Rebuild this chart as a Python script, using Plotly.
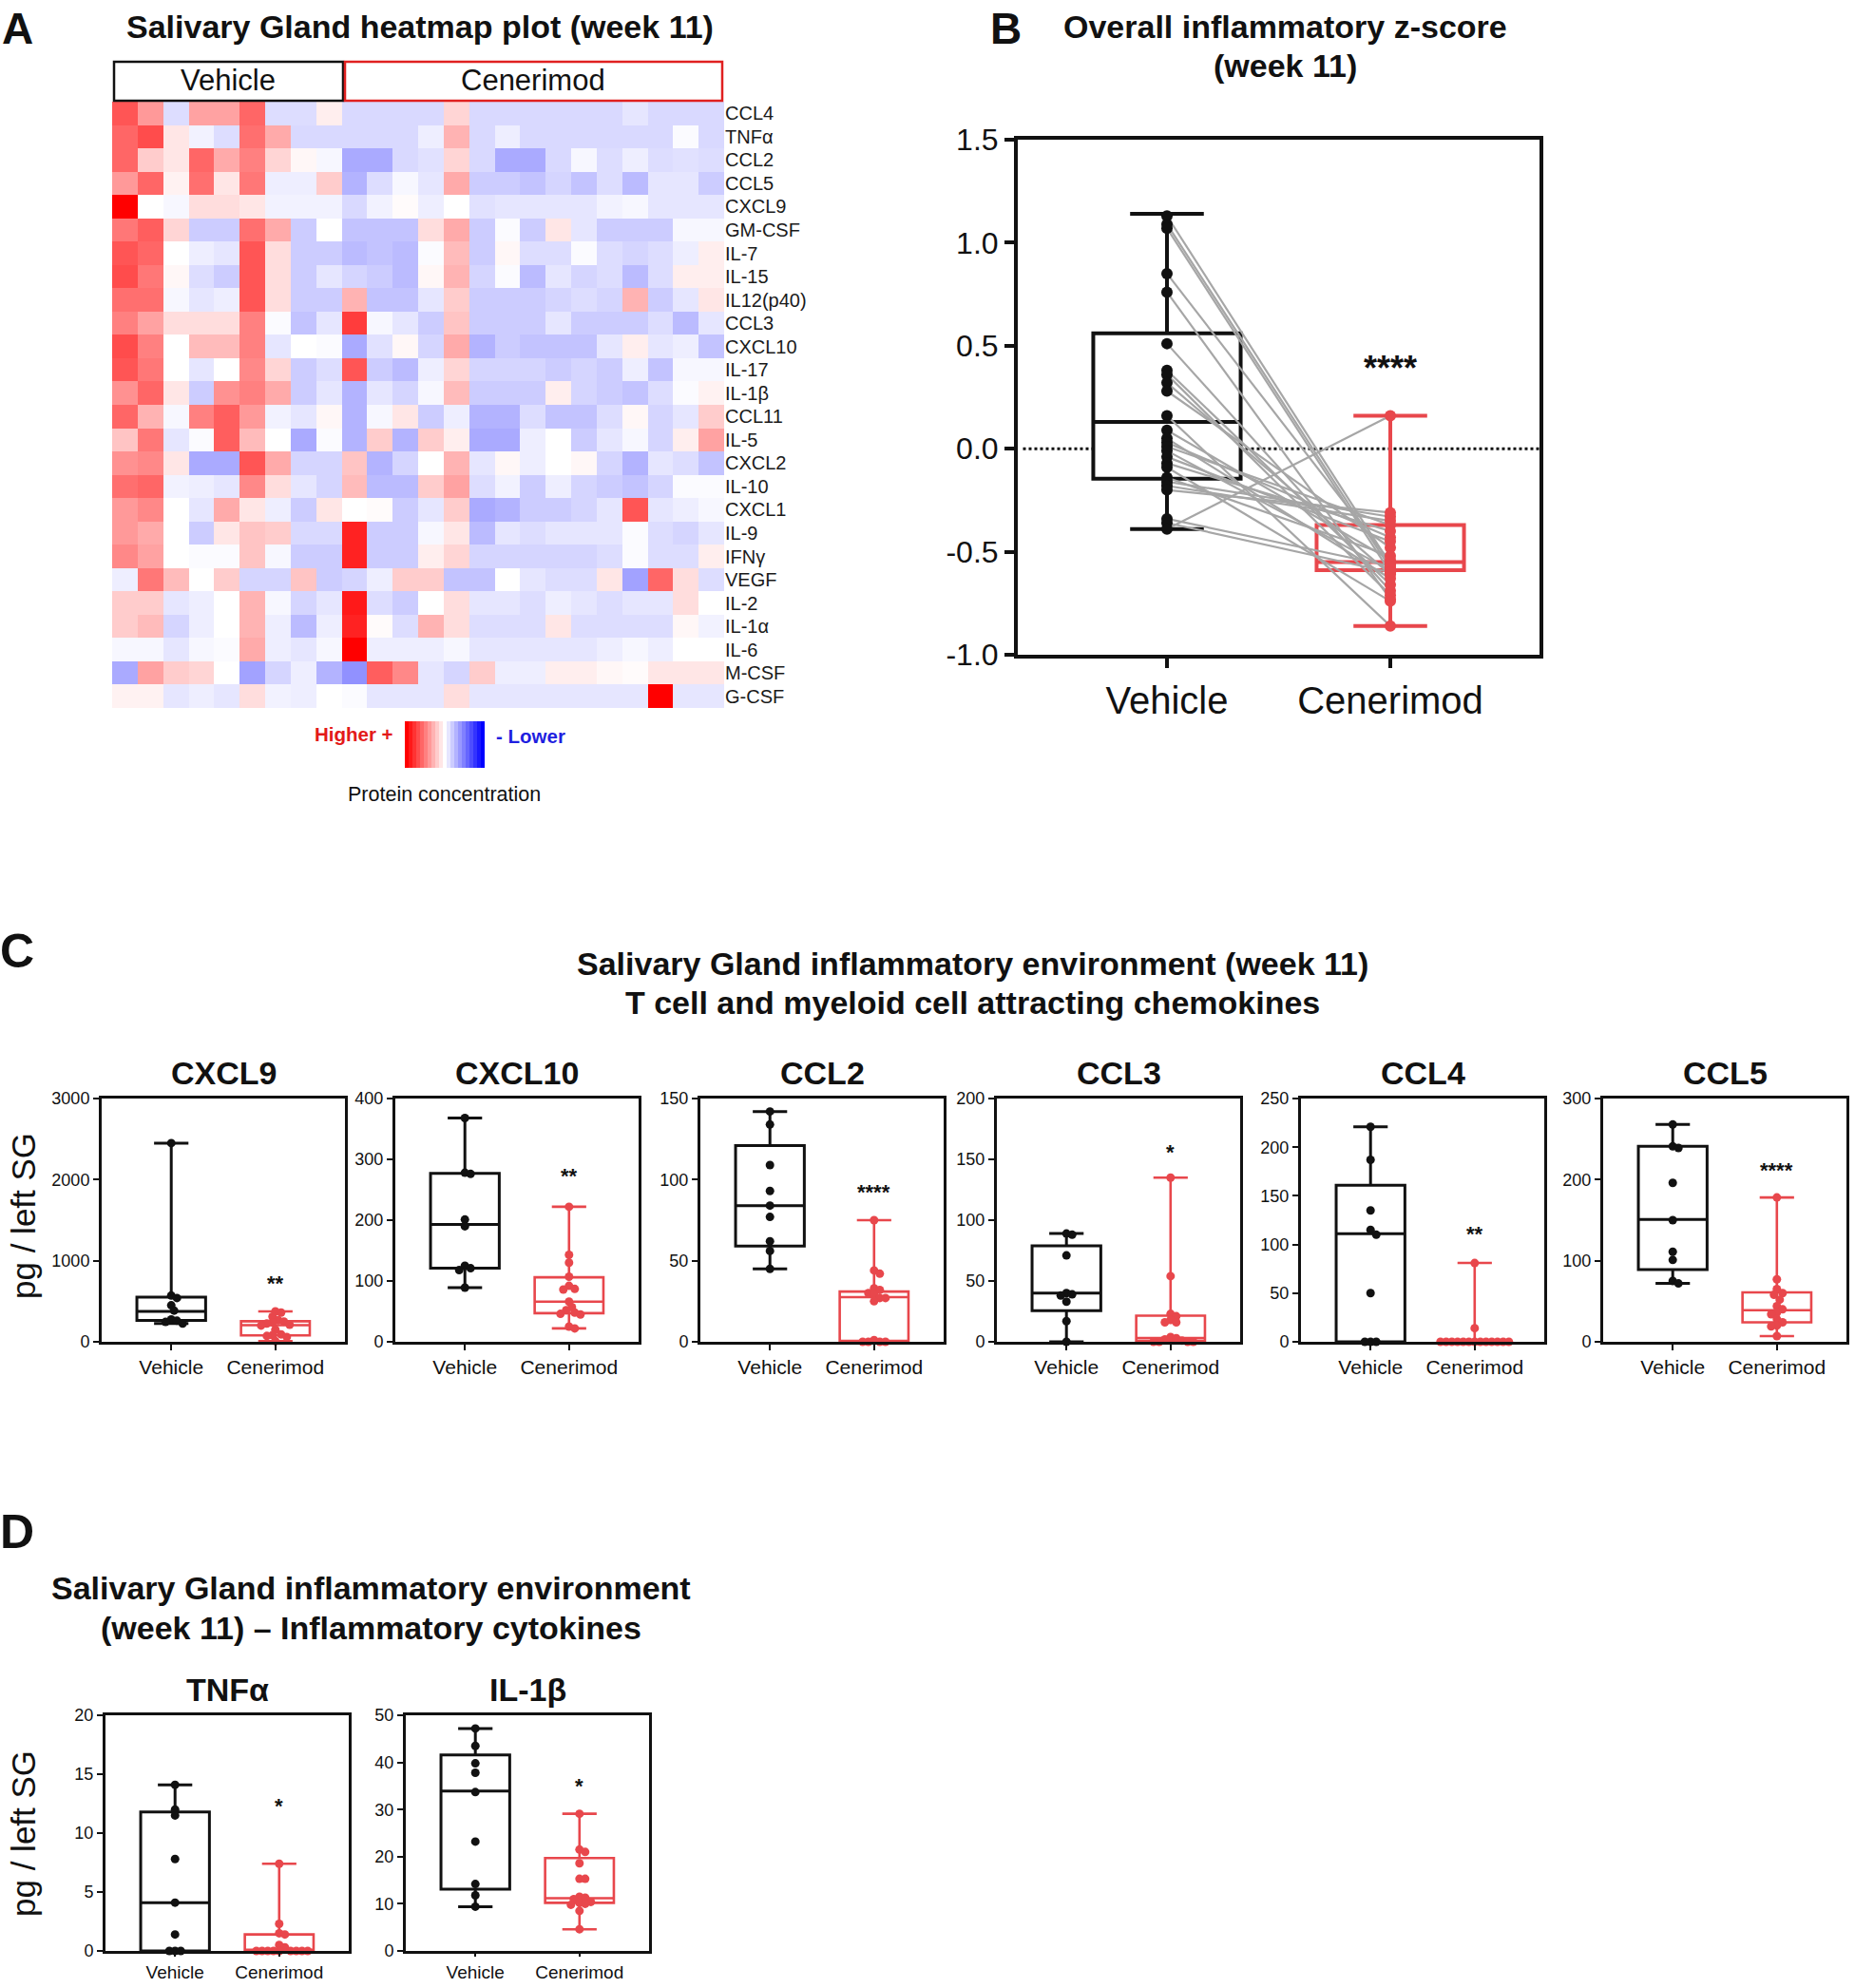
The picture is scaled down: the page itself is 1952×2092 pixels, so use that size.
import plotly.graph_objects as go

W, H = 1952, 2092
FONT = "Liberation Sans, Arial, Helvetica, sans-serif"
NARROW = "Liberation Sans Narrow, Arial Narrow, Liberation Sans, Arial, sans-serif"
RED = "#e8474c"
BLACK = "#111111"
GREY = "#a6a6a6"

# ---------------- Panel A: heatmap data ----------------
heat_rows = ["CCL4", "TNFα", "CCL2", "CCL5", "CXCL9", "GM-CSF", "IL-7", "IL-15", "IL12(p40)",
             "CCL3", "CXCL10", "IL-17", "IL-1β", "CCL11", "IL-5", "CXCL2", "IL-10", "CXCL1",
             "IL-9", "IFNγ", "VEGF", "IL-2", "IL-1α", "IL-6", "M-CSF", "G-CSF"]
heat_cols = ["V1", "V2", "V3", "V4", "V5", "V6", "V7", "V8", "V9",
             "C1", "C2", "C3", "C4", "C5", "C6", "C7", "C8", "C9", "C10", "C11", "C12", "C13", "C14", "C15"]
heat_values = [
    [2.0, 1.2, -0.4, 1.1, 1.1, 1.8, -0.4, -0.4, 0.2, -0.45, -0.45, -0.45, -0.45, 0.5, -0.45, -0.45, -0.45, -0.45, -0.45, -0.45, -0.3, -0.45, -0.45, -0.45],
    [1.8, 2.1, 0.3, -0.15, -0.4, 1.7, 1.0, -0.45, -0.45, -0.45, -0.45, -0.45, -0.2, 0.9, -0.45, -0.2, -0.45, -0.45, -0.45, -0.45, -0.45, -0.45, -0.05, -0.45],
    [1.8, 0.6, 0.3, 1.8, 1.0, 1.5, 0.5, 0.1, -0.1, -1.0, -1.0, -0.45, -0.35, 0.5, -0.45, -1.0, -1.0, -0.45, -0.1, -0.4, -0.2, -0.4, -0.35, -0.4],
    [1.2, 1.8, 0.15, 1.7, 0.3, 1.6, -0.2, -0.2, 0.6, -0.9, -0.4, -0.1, -0.3, 1.0, -0.6, -0.6, -0.7, -0.5, -0.7, -0.4, -0.8, -0.3, -0.3, -0.6],
    [3.0, 0.0, -0.1, 0.4, 0.4, 0.3, -0.15, -0.15, -0.15, -0.45, -0.15, 0.05, -0.2, 0.0, -0.35, -0.3, -0.3, -0.3, -0.3, -0.15, -0.1, -0.3, -0.3, -0.3],
    [1.6, 1.9, 0.5, -0.6, -0.6, 1.7, 1.0, -0.6, 0.0, -0.7, -0.7, -0.7, 0.4, 1.0, -0.6, -0.05, -0.6, 0.3, -0.3, -0.6, -0.6, -0.6, -0.1, -0.1],
    [2.0, 1.8, 0.0, -0.2, -0.3, 2.0, 0.4, -0.6, -0.6, -0.8, -0.7, -0.8, -0.05, 0.8, -0.6, 0.1, -0.4, -0.4, -0.05, -0.4, -0.5, -0.4, -0.2, 0.2],
    [2.1, 1.6, 0.1, -0.4, -0.6, 2.0, 0.4, -0.6, -0.3, -0.5, -0.6, -0.8, 0.1, 0.9, -0.5, -0.05, -0.8, -0.3, -0.5, -0.4, -0.8, -0.4, 0.2, 0.2],
    [1.7, 1.7, -0.1, -0.3, -0.2, 2.0, 0.4, -0.6, -0.6, 0.9, -0.7, -0.7, -0.3, 0.6, -0.6, -0.6, -0.6, -0.5, -0.4, -0.5, 0.9, -0.6, -0.3, 0.3],
    [1.5, 1.1, 0.4, 0.4, 0.4, 1.5, -0.05, -0.7, -0.3, 2.3, -0.1, -0.3, -0.6, 0.7, -0.6, -0.6, -0.6, -0.3, -0.6, -0.6, -0.6, -0.4, -0.8, -0.3],
    [2.1, 1.5, 0.0, 0.8, 0.8, 1.5, -0.3, 0.0, -0.05, -1.0, -0.35, 0.1, -0.5, 1.0, -0.9, -0.6, -0.7, -0.7, -0.7, -0.3, 0.2, -0.3, -0.2, -0.7],
    [2.0, 1.6, 0.0, -0.3, 0.0, 1.4, 0.5, -0.6, -0.4, 2.0, -0.6, -0.8, -0.2, 0.5, -0.5, -0.5, -0.5, -0.6, -0.5, -0.6, -0.2, -0.7, -0.1, -0.1],
    [1.3, 1.8, 0.3, -0.6, 1.3, 1.5, 1.0, -0.6, -0.3, -0.9, -0.3, -0.5, -0.1, 0.8, -0.6, -0.6, -0.6, 0.2, -0.5, -0.6, -0.7, -0.4, -0.05, 0.15],
    [1.8, 0.9, -0.1, 1.5, 1.9, 1.2, -0.15, -0.3, 0.1, -0.9, -0.1, 0.3, -0.6, -0.2, -0.9, -0.9, -0.4, -0.7, -0.7, -0.4, 0.1, -0.5, -0.3, 0.6],
    [0.7, 1.6, -0.3, -0.05, 1.9, 0.8, 0.0, -1.0, -0.05, -0.9, 0.6, -0.9, 0.6, 0.2, -1.0, -1.0, -0.2, 0.0, -0.6, -0.3, -0.1, -0.5, 0.2, 1.1],
    [1.3, 1.4, 0.3, -1.0, -1.0, 2.0, 1.0, -0.5, -0.5, 0.7, -0.9, -0.5, 0.0, 0.9, -0.3, 0.1, -0.2, 0.0, 0.1, -0.5, -0.9, -0.3, -0.4, -0.7],
    [1.7, 1.8, -0.15, -0.2, -0.3, 1.4, 0.4, -0.3, -0.5, 0.8, -0.8, -0.8, 0.6, 1.1, -0.4, -0.15, -0.6, -0.2, -0.5, -0.6, -0.7, -0.5, -0.05, -0.05],
    [1.2, 1.4, 0.0, -0.3, 1.0, 0.3, -0.2, -0.6, 0.3, 0.0, 0.05, -0.6, -0.3, 0.6, -1.0, -0.9, -0.6, -0.6, -0.5, -0.3, 2.0, -0.3, -0.2, -0.1],
    [1.2, 1.0, 0.0, -0.6, 0.3, 0.7, 0.6, -0.45, -0.45, 2.6, -0.6, -0.6, -0.1, 0.3, -0.8, -0.3, -0.4, -0.3, -0.3, -0.3, -0.05, -0.4, -0.5, -0.3],
    [1.4, 1.1, 0.0, -0.05, -0.05, 0.7, -0.1, -0.6, -0.6, 2.6, -0.6, -0.6, 0.2, 0.5, -0.5, -0.5, -0.5, -0.5, -0.5, -0.4, -0.05, -0.4, -0.4, 0.2],
    [-0.2, 1.6, 0.8, 0.0, 0.6, -0.5, -0.5, 0.7, -0.6, -0.5, -0.2, 0.6, 0.6, -0.7, -0.7, 0.0, -0.3, -0.4, -0.4, 0.3, -1.1, 1.8, 0.4, -0.4],
    [0.6, 0.6, -0.3, -0.2, 0.0, 0.9, -0.1, -0.5, -0.3, 2.7, -0.4, -0.6, 0.0, 0.4, -0.3, -0.3, -0.4, -0.2, -0.3, -0.4, -0.3, -0.3, 0.4, 0.0],
    [0.6, 0.8, -0.5, -0.2, 0.0, 0.9, -0.2, -0.8, -0.2, 2.6, 0.05, -0.4, 0.9, 0.4, -0.4, -0.4, -0.4, 0.3, -0.4, -0.4, -0.4, -0.4, 0.1, -0.15],
    [-0.1, -0.1, -0.3, -0.1, -0.05, 1.0, -0.2, -0.3, -0.1, 3.0, -0.2, -0.2, -0.2, -0.1, -0.3, -0.3, -0.3, -0.3, -0.3, -0.2, -0.1, -0.2, 0.0, 0.0],
    [-1.0, 1.1, 0.6, 0.5, 0.0, -1.1, -0.5, -0.2, -0.9, -1.3, 1.9, 1.4, -0.3, -0.5, 0.6, -0.2, -0.2, 0.2, 0.2, 0.1, 0.05, 0.3, 0.3, 0.3],
    [0.15, 0.15, -0.3, -0.2, -0.3, 0.4, -0.15, -0.2, 0.0, -0.05, -0.3, -0.3, -0.3, 0.4, -0.3, -0.3, -0.3, -0.3, -0.3, -0.3, -0.3, 3.0, -0.3, -0.3],
]
legend_gradient = [3.0, 2.7, 2.4, 2.1, 1.8, 1.5, 1.2, 0.9, 0.6, 0.3, 0.0, -0.3, -0.6, -0.9, -1.2,
                   -1.5, -1.8, -2.1, -2.4, -2.7, -3.0]

# ---------------- Panel B: overall z-score ----------------
b_categories = ["Vehicle", "Cenerimod"]
b_vehicle = [1.13, 1.09, 1.07, 0.85, 0.76, 0.51, 0.38, 0.36, 0.32, 0.28, 0.16, 0.09, 0.05,
             0.03, 0.01, -0.01, -0.04, -0.07, -0.09, -0.14, -0.16, -0.18, -0.20, -0.34, -0.36, -0.39]
b_cenerimod = [-0.56, -0.58, -0.60, -0.55, -0.73, -0.69, -0.66, -0.71, -0.61, -0.48, -0.86, -0.54, -0.63,
               -0.43, -0.37, -0.59, -0.45, -0.40, -0.74, -0.52, -0.33, -0.35, -0.31, -0.57, -0.60, 0.16]
b_vehicle_box = [-0.39, -0.145, 0.13, 0.56, 1.14]      # min, Q1, median, Q3, max
b_cenerimod_box = [-0.86, -0.59, -0.55, -0.37, 0.16]
b_yticks = [-1.0, -0.5, 0.0, 0.5, 1.0, 1.5]
b_star_y = 0.39

# ---------------- Panel C: chemokines ----------------
c_names = ["CXCL9", "CXCL10", "CCL2", "CCL3", "CCL4", "CCL5"]
c_ymax = [3000, 400, 150, 200, 250, 300]
c_dtick = [1000, 100, 50, 50, 50, 100]
c_stars = ["**", "**", "****", "*", "**", "****"]
c_star_y = [720, 272, 92, 156, 111, 211]

cxcl9_vehicle = [2450, 570, 540, 450, 385, 275, 260, 245, 225]
cxcl9_cenerimod = [375, 360, 310, 268, 250, 238, 225, 210, 200, 150, 92, 82, 72, 60, 8]
cxcl9_vehicle_box = [225, 265, 375, 550, 2450]
cxcl9_cenerimod_box = [8, 79, 205, 253, 375]

cxcl10_vehicle = [368, 278, 276, 201, 190, 125, 121, 118, 89]
cxcl10_cenerimod = [222, 143, 130, 107, 92, 87, 86, 66, 57, 52, 48, 46, 45, 25, 22]
cxcl10_vehicle_box = [89, 121, 193, 277, 368]
cxcl10_cenerimod_box = [22, 47, 66, 106, 222]

ccl2_vehicle = [142, 134, 109, 93, 84, 77, 62, 56, 45]
ccl2_cenerimod = [75, 44, 42, 33, 32, 30, 29, 27, 27, 25, 1, 0, 0, 0, 0]
ccl2_vehicle_box = [45, 59, 84, 121, 142]
ccl2_cenerimod_box = [0, 0.6, 27.5, 31, 75]

ccl3_vehicle = [89, 88, 71, 40, 39, 38, 33, 17, 0]
ccl3_cenerimod = [135, 54, 23, 21, 18, 16, 16, 4, 3, 2, 1, 0, 0, 0, 0]
ccl3_vehicle_box = [0, 25.5, 40, 79, 89]
ccl3_cenerimod_box = [0, 0.5, 3, 21.5, 135]

ccl4_vehicle = [221, 187, 135, 115, 110, 50, 0, 0, 0]
ccl4_cenerimod = [81, 14, 0, 0, 0, 0, 0, 0, 0, 0, 0, 0, 0, 0, 0]
ccl4_vehicle_box = [0, 0, 111, 161, 221]
ccl4_cenerimod_box = [0, 0, 0, 0, 81]

ccl5_vehicle = [268, 241, 239, 196, 150, 111, 101, 75, 72]
ccl5_cenerimod = [178, 77, 65, 60, 58, 52, 44, 40, 36, 34, 28, 24, 20, 19, 7]
ccl5_vehicle_box = [72, 89, 151, 241, 268]
ccl5_cenerimod_box = [7, 24, 39, 61, 178]

# ---------------- Panel D: cytokines ----------------
d_names = ["TNFα", "IL-1β"]
d_ymax = [20, 50]
d_dtick = [5, 10]
d_stars = ["*", "*"]
d_star_y = [12.3, 35]

tnfa_vehicle = [14.1, 12.0, 11.5, 7.8, 4.1, 1.4, 0, 0, 0]
tnfa_cenerimod = [7.4, 2.3, 1.5, 1.4, 0.5, 0.3, 0, 0, 0, 0, 0, 0, 0, 0, 0]
tnfa_vehicle_box = [0, 0, 4.1, 11.8, 14.1]
tnfa_cenerimod_box = [0, 0, 0.1, 1.4, 7.4]

il1b_vehicle = [47.2, 43.5, 39.8, 37.8, 33.7, 23.2, 14.2, 11.8, 9.4]
il1b_cenerimod = [29.1, 21.5, 21.0, 18.6, 15.3, 15.3, 11.5, 11.3, 11.0, 10.4, 10.2, 10.0, 9.8, 8.5, 4.6]
il1b_vehicle_box = [9.4, 13.1, 33.9, 41.6, 47.2]
il1b_cenerimod_box = [4.6, 10.2, 11.2, 19.7, 29.1]

c_groups = [
    (cxcl9_vehicle, cxcl9_cenerimod, cxcl9_vehicle_box, cxcl9_cenerimod_box),
    (cxcl10_vehicle, cxcl10_cenerimod, cxcl10_vehicle_box, cxcl10_cenerimod_box),
    (ccl2_vehicle, ccl2_cenerimod, ccl2_vehicle_box, ccl2_cenerimod_box),
    (ccl3_vehicle, ccl3_cenerimod, ccl3_vehicle_box, ccl3_cenerimod_box),
    (ccl4_vehicle, ccl4_cenerimod, ccl4_vehicle_box, ccl4_cenerimod_box),
    (ccl5_vehicle, ccl5_cenerimod, ccl5_vehicle_box, ccl5_cenerimod_box),
]
d_groups = [
    (tnfa_vehicle, tnfa_cenerimod, tnfa_vehicle_box, tnfa_cenerimod_box),
    (il1b_vehicle, il1b_cenerimod, il1b_vehicle_box, il1b_cenerimod_box),
]

# ================= layout helpers =================
def dx(l, r):
    return [l / W, r / W]


def dy(t, b):
    return [1 - b / H, 1 - t / H]


def px(x):
    return x / W


def py(y):
    return 1 - y / H


XR = [-0.668, 1.668]
COLORSCALE = [[0, "rgb(0,0,255)"], [0.5, "rgb(255,255,255)"], [1, "rgb(255,0,0)"]]

fig = go.Figure()
layout = dict(
    width=W, height=H, margin=dict(l=0, r=0, t=0, b=0, autoexpand=False),
    paper_bgcolor="white", plot_bgcolor="white",
    font=dict(family=FONT, color=BLACK),
    showlegend=False, boxmode="overlay",
)
annotations = []
shapes = []


def ann(text, x, y, size, bold=False, color=BLACK, xanchor="center", yanchor="middle", angle=0, family=FONT):
    annotations.append(dict(
        text=("<b>%s</b>" % text) if bold else text, x=px(x), y=py(y), xref="paper", yref="paper",
        showarrow=False, xanchor=xanchor, yanchor=yanchor, textangle=angle,
        font=dict(size=size, color=color, family=family)))


# ================= Panel A =================
fig.add_trace(go.Heatmap(z=heat_values, x=heat_cols, y=heat_rows, colorscale=COLORSCALE,
                         zmin=-3, zmax=3, showscale=False, xaxis="x", yaxis="y", hoverinfo="skip"))
layout["xaxis"] = dict(domain=dx(118, 762), visible=False, type="category", anchor="y")
layout["yaxis"] = dict(domain=dy(107, 745), type="category", autorange="reversed", side="right",
                       tickmode="array", tickvals=heat_rows, ticktext=heat_rows,
                       showline=False, showgrid=False, zeroline=False, ticks="", anchor="x",
                       tickfont=dict(size=20, color="#1a1a1a", family=FONT))

fig.add_trace(go.Heatmap(z=[legend_gradient], colorscale=COLORSCALE, zmin=-3, zmax=3,
                         showscale=False, xaxis="x2", yaxis="y2", hoverinfo="skip"))
layout["xaxis2"] = dict(domain=dx(426, 510), visible=False, anchor="y2")
layout["yaxis2"] = dict(domain=dy(759, 808), visible=False, anchor="x2")

shapes.append(dict(type="rect", xref="paper", yref="paper", x0=px(120), x1=px(361), y0=py(106), y1=py(65),
                   line=dict(color=BLACK, width=2.5)))
shapes.append(dict(type="rect", xref="paper", yref="paper", x0=px(363), x1=px(760), y0=py(106), y1=py(65),
                   line=dict(color="#e02020", width=2.5)))
ann("Vehicle", 240, 85, 31)
ann("Cenerimod", 561, 85, 31)
ann("A", 18, 2, 46, bold=True, yanchor="top")
ann("Salivary Gland heatmap plot (week 11)", 442, 28, 34, bold=True)
ann("Higher +", 416, 772, 20.5, bold=True, color="#e31a1a", xanchor="right")
ann("- Lower", 520, 774, 20.5, bold=True, color="#1f1fe0", xanchor="left")
ann("Protein concentration", 467, 836, 21.5)

# ================= Panel B =================
fig.add_trace(go.Box(x=[0], lowerfence=[b_vehicle_box[0]], q1=[b_vehicle_box[1]], median=[b_vehicle_box[2]],
                     q3=[b_vehicle_box[3]], upperfence=[b_vehicle_box[4]], width=0.66, whiskerwidth=0.5,
                     line=dict(color=BLACK, width=4), fillcolor="white", boxpoints=False, orientation="v",
                     xaxis="x3", yaxis="y3", hoverinfo="skip"))
fig.add_trace(go.Box(x=[1], lowerfence=[b_cenerimod_box[0]], q1=[b_cenerimod_box[1]], median=[b_cenerimod_box[2]],
                     q3=[b_cenerimod_box[3]], upperfence=[b_cenerimod_box[4]], width=0.66, whiskerwidth=0.5,
                     line=dict(color=RED, width=4), fillcolor="rgba(255,255,255,0)", boxpoints=False,
                     orientation="v", xaxis="x3", yaxis="y3", hoverinfo="skip"))
lx, ly = [], []
for v, c in zip(b_vehicle, b_cenerimod):
    lx += [0, 1, None]
    ly += [v, c, None]
fig.add_trace(go.Scatter(x=lx, y=ly, mode="lines", line=dict(color=GREY, width=2.2),
                         xaxis="x3", yaxis="y3", hoverinfo="skip"))
fig.add_trace(go.Scatter(x=[0] * len(b_vehicle), y=b_vehicle, mode="markers",
                         marker=dict(size=12, color=BLACK), xaxis="x3", yaxis="y3", cliponaxis=False,
                         hoverinfo="skip"))
fig.add_trace(go.Scatter(x=[1] * len(b_cenerimod), y=b_cenerimod, mode="markers",
                         marker=dict(size=12, color=RED), xaxis="x3", yaxis="y3", cliponaxis=False,
                         hoverinfo="skip"))
layout["xaxis3"] = dict(domain=dx(1071, 1620), range=XR, anchor="y3", tickvals=[0, 1], ticktext=b_categories,
                        showline=True, linewidth=4, linecolor=BLACK, mirror=True, ticks="outside",
                        ticklen=10, tickwidth=4, tickcolor=BLACK, showgrid=False, zeroline=False,
                        tickfont=dict(size=40, family=FONT, color=BLACK))
layout["yaxis3"] = dict(domain=dy(147, 689), range=[-1, 1.5], anchor="x3", tickvals=b_yticks,
                        ticktext=["%.1f" % t for t in b_yticks], showline=True, linewidth=4, linecolor=BLACK,
                        mirror=True, ticks="outside", ticklen=10, tickwidth=4, tickcolor=BLACK, showgrid=False,
                        zeroline=False, tickfont=dict(size=32, family=FONT, color=BLACK))
shapes.append(dict(type="line", xref="x3 domain", yref="y3", x0=0.01, x1=1, y0=0, y1=0, layer="below",
                   line=dict(color=BLACK, width=3, dash="dot")))
annotations.append(dict(text="<b>****</b>", x=1, y=b_star_y, xref="x3", yref="y3", showarrow=False,
                        font=dict(size=36, family=FONT, color=BLACK)))
ann("B", 1058, 2, 46, bold=True, yanchor="top")
ann("Overall inflammatory z-score", 1352, 28, 34, bold=True)
ann("(week 11)", 1352, 69, 34, bold=True)


# ================= beeswarm offsets =================
def swarm(vals, ymax, h_px, w_px, dmin=6.0, step=3.0):
    ppu_y = h_px / ymax
    ppu_x = w_px / (XR[1] - XR[0])
    placed = []
    offs = [0.0] * len(vals)
    order = sorted(range(len(vals)), key=lambda i: -vals[i])
    cands = [0]
    for j in range(1, 60):
        cands += [j, -j]
    for i in order:
        yp = vals[i] * ppu_y
        for k in cands:
            xp = k * step
            if all((xp - a) ** 2 + (yp - b) ** 2 >= dmin ** 2 for a, b in placed):
                placed.append((xp, yp))
                offs[i] = xp / ppu_x
                break
    return offs


def small_panel(idx, left, right, top, bottom, name, ymax, dtick, groups, star, star_y,
                xfont=21, xticklen=6):
    xa, ya = "x%d" % idx, "y%d" % idx
    veh, cen, vbox, cbox = groups
    w_px, h_px = right - left, bottom - top
    for pos, box, color, lw in ((0, vbox, BLACK, 3), (1, cbox, RED, 2.6)):
        fig.add_trace(go.Box(x=[pos], lowerfence=[box[0]], q1=[box[1]], median=[box[2]], q3=[box[3]],
                             upperfence=[box[4]], width=0.66, whiskerwidth=0.5, line=dict(color=color, width=lw),
                             fillcolor="rgba(255,255,255,0)", boxpoints=False, orientation="v",
                             xaxis=xa, yaxis=ya, hoverinfo="skip"))
    for pos, vals, color in ((0, veh, BLACK), (1, cen, RED)):
        offs = swarm(vals, ymax, h_px, w_px)
        fig.add_trace(go.Scatter(x=[pos + o for o in offs], y=vals, mode="markers",
                                 marker=dict(size=9, color=color), xaxis=xa, yaxis=ya, cliponaxis=False,
                                 hoverinfo="skip"))
    layout["xaxis%d" % idx] = dict(domain=dx(left, right), range=XR, anchor=ya, tickvals=[0, 1],
                                   ticktext=b_categories, showline=True, linewidth=3, linecolor=BLACK,
                                   mirror=True, ticks="outside", ticklen=xticklen, tickwidth=2, tickcolor=BLACK,
                                   showgrid=False, zeroline=False,
                                   tickfont=dict(size=xfont, family=NARROW, color=BLACK))
    layout["yaxis%d" % idx] = dict(domain=dy(top, bottom), range=[0, ymax], anchor=xa, dtick=dtick,
                                   showline=True, linewidth=3, linecolor=BLACK, mirror=True, ticks="outside",
                                   ticklen=6, tickwidth=2, tickcolor=BLACK, showgrid=False, zeroline=False,
                                   tickfont=dict(size=18, family=NARROW, color=BLACK))
    annotations.append(dict(text="<b>%s</b>" % star, x=1, y=star_y, xref=xa, yref=ya, showarrow=False,
                            font=dict(size=22, family=FONT, color=BLACK)))
    ann(name, (left + right) / 2, top - 27, 34, bold=True)


# ================= Panel C =================
c_left = [107, 416, 737, 1049, 1369, 1687]
for i in range(6):
    small_panel(4 + i, c_left[i], c_left[i] + 256, 1156, 1412, c_names[i], c_ymax[i], c_dtick[i],
                c_groups[i], c_stars[i], c_star_y[i])
ann("C", 18, 1001, 50, bold=True)
ann("Salivary Gland inflammatory environment (week 11)", 1023, 1014, 34, bold=True)
ann("T cell and myeloid cell attracting chemokines", 1023, 1055, 34, bold=True)
ann("pg / left SG", 24, 1280, 35, angle=-90)

# ================= Panel D =================
d_left = [111, 427]
for i in range(2):
    small_panel(10 + i, d_left[i], d_left[i] + 256, 1805, 2053, d_names[i], d_ymax[i], d_dtick[i],
                d_groups[i], d_stars[i], d_star_y[i], xfont=19, xticklen=3)
ann("D", 18, 1612, 50, bold=True)
ann("Salivary Gland inflammatory environment", 390, 1671, 34, bold=True)
ann("(week 11) – Inflammatory cytokines", 390, 1713, 34, bold=True)
ann("pg / left SG", 24, 1930, 35, angle=-90)

layout["annotations"] = annotations
layout["shapes"] = shapes
fig.update_layout(**layout)

fig.write_html("out.html", config={"displayModeBar": False},
               post_script="document.body.style.margin='0px';document.body.style.overflow='hidden';")
